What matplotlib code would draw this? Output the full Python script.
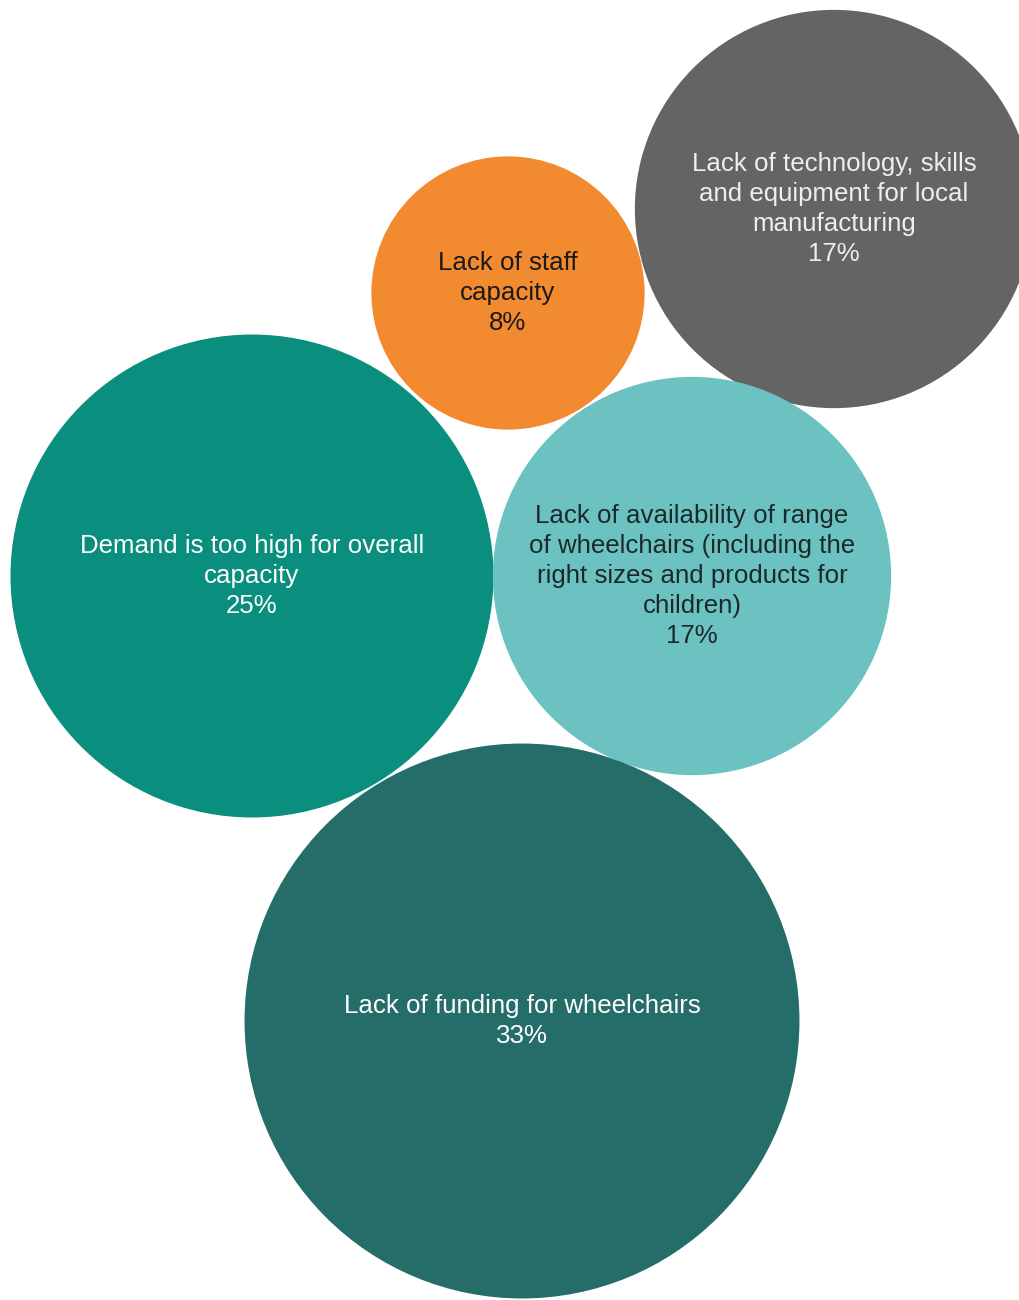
import matplotlib
matplotlib.use("Agg")
import matplotlib.pyplot as plt
from matplotlib.patches import Circle
import numpy as np

# Reasons given for wheelchair service gaps (share of responses, %)
labels = [
    "Lack of technology, skills\nand equipment for local\nmanufacturing",
    "Lack of staff\ncapacity",
    "Demand is too high for overall\ncapacity",
    "Lack of availability of range\nof wheelchairs (including the\nright sizes and products for\nchildren)",
    "Lack of funding for wheelchairs",
]
shares = [17, 8, 25, 17, 33]

# Layout: bubble centres (pixel space), fill and text colours
centres = [(834, 209), (508, 293), (252, 576), (692, 576), (522, 1021)]
fills = ["#646464", "#f28a30", "#0a8f7e", "#6cc2c0", "#256d68"]
text_colours = ["#eeeeee", "#1a1a1a", "#ffffff", "#1a2a2a", "#ffffff"]
scale = 48.3  # radius per sqrt(percent), so bubble area tracks the share

W, H = 1020, 1300
fig = plt.figure(figsize=(W / 100, H / 100), dpi=100)
ax = fig.add_axes([0, 0, 1, 1])
ax.set_xlim(0, W)
ax.set_ylim(H, 0)
ax.set_aspect("equal")
ax.axis("off")

for lab, v, (cx, cy), fc, tc in zip(labels, shares, centres, fills, text_colours):
    r = scale * np.sqrt(v)
    ax.add_patch(Circle((cx, cy), r, facecolor=fc, edgecolor="none"))
    ax.text(cx, cy, f"{lab}\n{v}%", ha="center", va="center", color=tc,
            fontsize=18.6, family="Liberation Sans", linespacing=1.32)

fig.savefig("out.png", dpi=100, facecolor="white")
